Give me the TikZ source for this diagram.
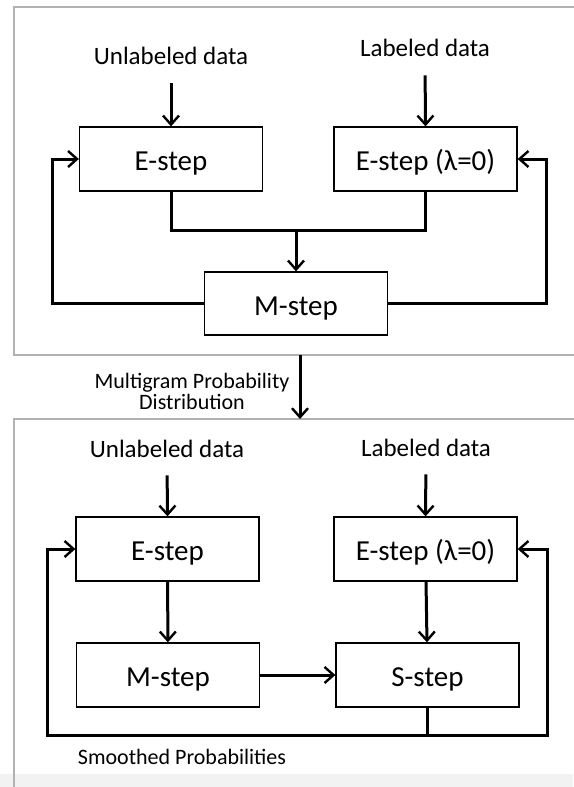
\documentclass[tikz,border=0pt]{standalone}
\usepackage{fontspec}
\setmainfont{Carlito}
\usetikzlibrary{arrows.meta}

\tikzset{
  stepbox/.style={draw, line width=1.3pt, minimum width=183pt, minimum height=64pt,
    inner sep=0pt, text height=23pt, text depth=0pt, font=\fontsize{29}{32}\selectfont},
  datalabel/.style={font=\fontsize{25}{28}\selectfont},
  notelabel/.style={font=\fontsize{22}{24}\selectfont, align=center},
  flow/.style={line width=3pt},
  arr/.style={flow, -{Straight Barb[length=9pt,width=16pt,line width=2.4pt]}},
  frame/.style={draw=black!30, line width=2.8pt}
}

\begin{document}
\begin{tikzpicture}[x=1pt, y=-1pt]
  \useasboundingbox (0,0) rectangle (573,787);
  \fill[black!5] (0,774) rectangle (573,787);

  % frames
  \draw[frame] (600,355) -- (14,355) -- (14,7) -- (600,7);
  \draw[frame] (14,820) -- (14,419) -- (600,419);

  % first stage
  \node[datalabel] (ud1) at (171,56) {Unlabeled data};
  \node[datalabel] (ld1) at (425,48) {Labeled data};
  \node[stepbox] (e1) at (171,159) {E-step};
  \node[stepbox] (e2) at (425.5,159) {E-step (λ=0)};
  \node[stepbox, minimum height=63pt] (m1) at (296,303.5) {M-step};
  \coordinate (mid1) at (296,230);
  \coordinate (lft1) at (52,159);
  \coordinate (rgt1) at (546,159);

  \draw[arr, shorten <=15pt] (ud1.south) -- (e1.north);
  \draw[arr, shorten <=15pt] (ld1.south) -- (e2.north);
  \draw[flow] (e1.south) |- (mid1) -| (e2.south);
  \draw[arr] (mid1) -- (m1.north);
  \draw[arr] (m1.west) -| (lft1) -- (e1.west);
  \draw[arr] (m1.east) -| (rgt1) -- (e2.east);

  % between the stages
  \coordinate (out1) at (300,355);
  \coordinate (in2) at (300,419);
  \draw[arr] (out1) -- (in2);
  \node[notelabel] (mpd) at (192,391) {Multigram Probability\\[-3pt]Distribution};

  % second stage
  \node[datalabel] (ud2) at (167,449) {Unlabeled data};
  \node[datalabel] (ld2) at (426,448) {Labeled data};
  \node[stepbox] (e3) at (167.5,549) {E-step};
  \node[stepbox] (e4) at (425.5,549) {E-step (λ=0)};
  \node[stepbox] (m3) at (168,675) {M-step};
  \node[stepbox] (s4) at (427.5,675) {S-step};
  \coordinate (bot) at (427.5,735);
  \coordinate (lft2) at (47,549);
  \coordinate (rgt2) at (547,549);

  \draw[arr, shorten <=14pt] (ud2.south) -- (e3.north);
  \draw[arr, shorten <=14pt] (ld2.south) -- (e4.north);
  \draw[arr] (e3) -- (m3);
  \draw[arr] (e4) -- (s4);
  \draw[arr] (m3) -- (s4);
  \draw[flow] (s4.south) -- (bot);
  \draw[arr] (bot) -| (lft2) -- (e3.west);
  \draw[arr] (bot) -| (rgt2) -- (e4.east);
  \node[notelabel] (smp) at (182,757) {Smoothed Probabilities};
\end{tikzpicture}
\end{document}
